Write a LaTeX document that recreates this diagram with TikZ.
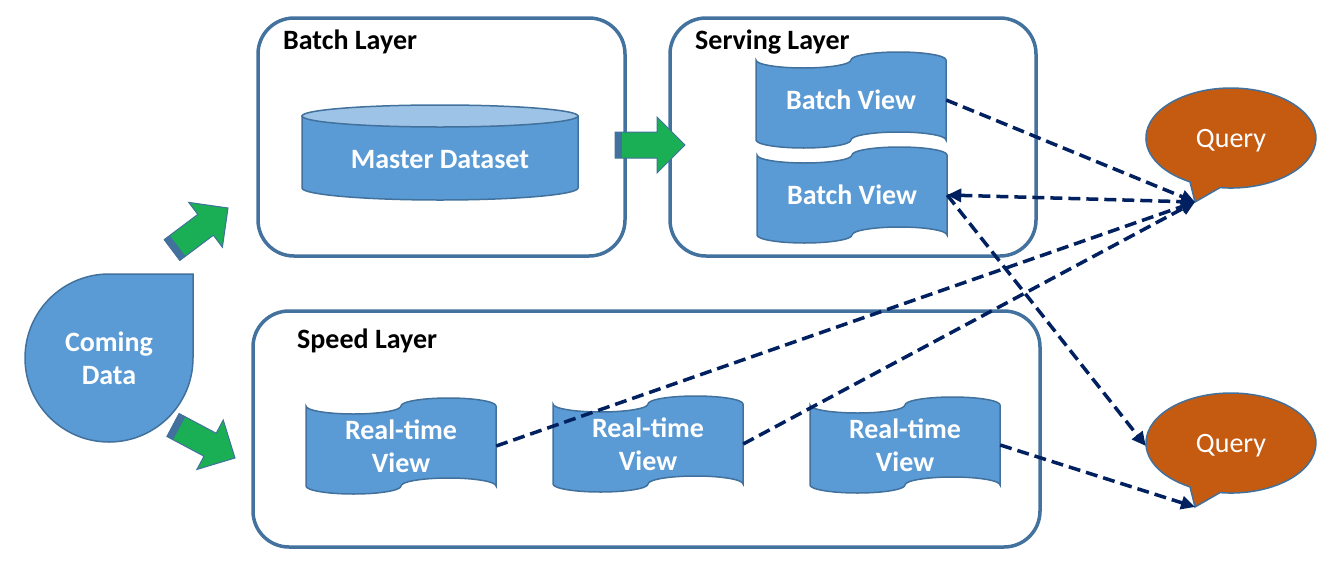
\documentclass[tikz,border=0pt]{standalone}
\usepackage{fontspec}
\setmainfont{Carlito}
\usepackage{tikz}
\usetikzlibrary{arrows.meta,calc,shapes.geometric}
\definecolor{viewblue}{RGB}{91,155,213}
\definecolor{edgeblue}{RGB}{65,113,156}
\definecolor{lidblue}{RGB}{157,195,230}
\definecolor{layerblue}{RGB}{68,114,158}
\definecolor{queryorange}{RGB}{197,90,17}
\definecolor{flowgreen}{RGB}{26,175,84}
\definecolor{flownavy}{RGB}{0,32,96}

\tikzset{
  layerbox/.style={draw=layerblue, line width=3.5pt, rounded corners=36pt},
  layertitle/.style={anchor=west, inner sep=0pt, font=\bfseries\fontsize{28}{30}\selectfont},
  shapeline/.style={draw=edgeblue, line width=1.5pt},
  viewtext/.style={text=white, align=center, inner sep=0pt, font=\bfseries\fontsize{28}{33}\selectfont},
  tapetext/.style={viewtext, minimum width=190, minimum height=96},
  querytext/.style={text=white, ellipse, inner sep=0pt, minimum width=170, minimum height=100, font=\fontsize{28}{30}\selectfont},
  flow/.style={draw=flownavy, line width=3.5pt, dash pattern=on 12pt off 6pt},
}

% punched tape view: name, centre, text
\newcommand{\tapeview}[3]{%
  \begin{scope}[shift={(#2)}]
    \draw[shapeline, fill=viewblue] (-95,-40) .. controls (-95,-35.6) and (-73.7,-32) .. (-47.5,-32)
        .. controls (-21.3,-32) and (0,-35.6) .. (0,-40)
        .. controls (0,-44.4) and (21.3,-48) .. (47.5,-48)
        .. controls (73.7,-48) and (95,-44.4) .. (95,-40)
        -- (95,40) .. controls (95,35.6) and (73.7,32) .. (47.5,32)
        .. controls (21.3,32) and (0,35.6) .. (0,40)
        .. controls (0,44.4) and (-21.3,48) .. (-47.5,48)
        .. controls (-73.7,48) and (-95,44.4) .. (-95,40) -- cycle;
    \node[tapetext] (#1) at (0,0) {#3};
  \end{scope}
}

% block arrow from tail to tip
\newcommand{\greenarrow}[2]{%
  \coordinate (ga-h) at ($(#1)!42pt!(#2)$);
  \coordinate (ga-s) at ($(#1)!7pt!(#2)$);
  \draw[fill=flowgreen, draw=edgeblue, line width=1pt] ($(#1)!13pt!90:(#2)$) -- ($(ga-h)!13pt!90:(#2)$)
    -- ($(ga-h)!28pt!90:(#2)$) -- (#2) -- ($(ga-h)!28pt!-90:(#2)$) -- ($(ga-h)!13pt!-90:(#2)$)
    -- ($(#1)!13pt!-90:(#2)$) -- cycle;
  \fill[edgeblue] ($(#1)!13pt!90:(#2)$) -- ($(ga-s)!13pt!90:(#2)$) -- ($(ga-s)!13pt!-90:(#2)$)
    -- ($(#1)!13pt!-90:(#2)$) -- cycle;
}

\begin{document}
\begin{tikzpicture}[x=1pt, y=-1pt, >=Stealth]
    \useasboundingbox (0,0) rectangle (1344,568);

    % Layer frames
    \draw[layerbox] (258,18) rectangle (625,256);
    \node[layertitle] (batchtitle) at (283,42) {Batch Layer};
    \draw[layerbox] (670,18) rectangle (1036,256);
    \node[layertitle] (servingtitle) at (695,42) {Serving Layer};
    \draw[layerbox] (253,311) rectangle (1040,547);
    \node[layertitle] (speedtitle) at (297,341) {Speed Layer};

    % Master dataset cylinder
    \draw[shapeline, fill=viewblue] (302,116) -- (302,188) .. controls (302,194.6) and (363.8,200) .. (440,200)
        .. controls (516.2,200) and (578,194.6) .. (578,188) -- (578,116) -- cycle;
    \draw[shapeline, fill=lidblue] (440,116) ellipse [x radius=138pt, y radius=11pt];
    \node[viewtext] (master) at (440,160) {Master Dataset};

    % Views
    \tapeview{bview1}{851,100}{Batch View}
    \tapeview{bview2}{852,195}{Batch View}
    \tapeview{rtview1}{401,446}{Real-time\\View}
    \tapeview{rtview2}{648,444}{Real-time\\View}
    \tapeview{rtview3}{905,445}{Real-time\\View}

    % Incoming data drop
    \draw[shapeline, fill=viewblue] (109,274) arc[start angle=90, end angle=360, radius=84pt] -- (193,274) -- cycle;
    \node[viewtext] (coming) at (109,358) {Coming\\Data};

    % Query callouts
    \foreach \n/\yc in {1/138, 2/443} {
        \draw[shapeline, fill=queryorange] (1220,{\yc+49.6})
            arc[start angle=262.6, end angle=601.2, x radius=85pt, y radius=50pt] -- (1195,{\yc+64}) -- cycle;
        \coordinate (q\n-tip) at (1195,{\yc+64});
        \node[querytext] (query\n) at (1231,{\yc+3}) {Query};
    }

    % Green block arrows
    \coordinate (tobatch-tail) at (172,250);
    \coordinate (tobatch-tip) at (228,208);
    \coordinate (tospeed-tail) at (173,425);
    \coordinate (tospeed-tip) at (235,458);
    \coordinate (toserving-tail) at (615,145);
    \coordinate (toserving-tip) at (685,145);
    \greenarrow{tobatch-tail}{tobatch-tip}
    \greenarrow{tospeed-tail}{tospeed-tip}
    \greenarrow{toserving-tail}{toserving-tip}

    % Dashed query flows
    \draw[flow, -{Triangle[length=14pt,width=13pt]}] (bview1.east) -- (q1-tip);
    \draw[flow, {Triangle[length=14pt,width=13pt]}-{Triangle[length=14pt,width=13pt]}] (bview2.east) -- (q1-tip);
    \draw[flow, -{Triangle[length=14pt,width=13pt]}] (rtview1.east) -- (q1-tip);
    \draw[flow, -{Triangle[length=14pt,width=13pt]}] (rtview2.east) -- (q1-tip);
    \draw[flow, -{Triangle[length=14pt,width=13pt]}] (rtview3.east) -- (q2-tip);
    \draw[flow, -{Triangle[length=14pt,width=13pt]}] (bview2.east) -- (query2.west);
\end{tikzpicture}
\end{document}
